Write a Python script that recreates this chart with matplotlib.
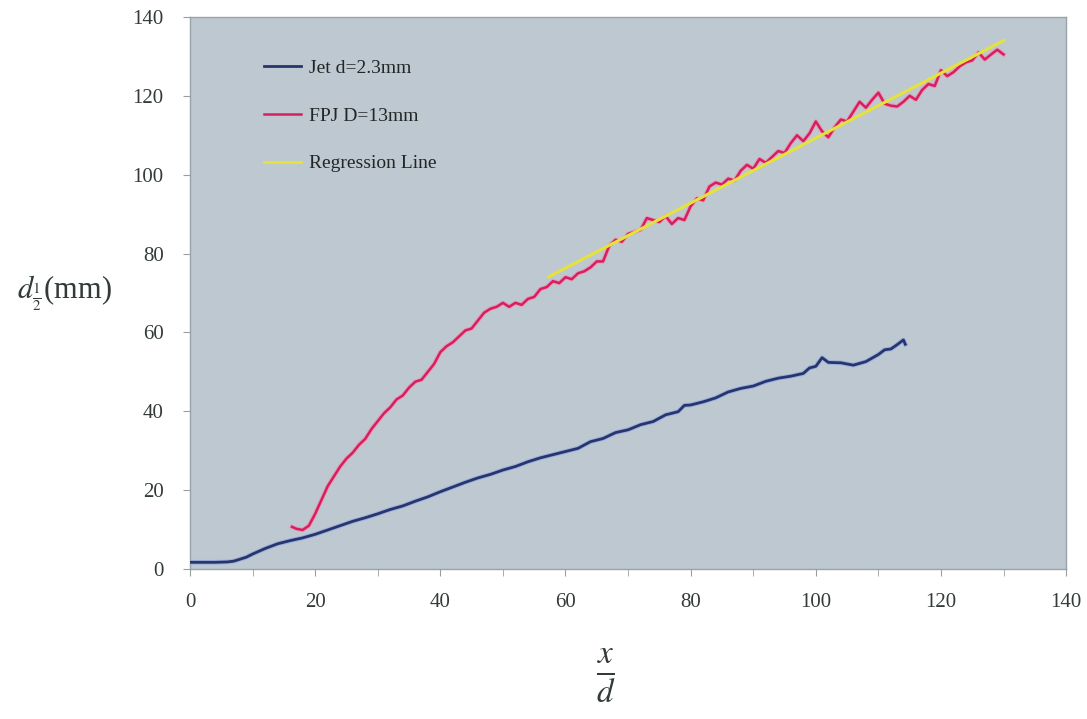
import numpy as np
import matplotlib.pyplot as plt

# струя d=2.3mm
jet_x = [0, 2, 4, 6, 7, 8, 9, 10, 11, 12, 14, 16, 18, 20, 22, 24, 26, 28, 30,
         32, 34, 36, 38, 40, 42, 44, 46, 48, 50, 52, 54, 56, 58, 60, 62, 64,
         66, 68, 70, 72, 74, 76, 78, 79, 80, 82, 84, 86, 88, 90, 92, 94, 96,
         98, 99, 100, 101, 102, 104, 106, 108, 110, 111, 112, 113, 114, 114.3]
jet_y = [1.7, 1.7, 1.7, 1.8, 2.0, 2.5, 3.0, 3.8, 4.5, 5.2, 6.4, 7.2, 7.9, 8.8,
         9.9, 11.0, 12.1, 13.0, 14.0, 15.1, 16.0, 17.2, 18.3, 19.6, 20.8, 22.0,
         23.1, 24.0, 25.1, 26.0, 27.2, 28.2, 29.0, 29.8, 30.6, 32.3, 33.1, 34.6,
         35.3, 36.6, 37.4, 39.1, 39.9, 41.5, 41.6, 42.4, 43.4, 44.9, 45.8, 46.4,
         47.6, 48.4, 48.9, 49.6, 51.0, 51.4, 53.6, 52.4, 52.3, 51.7, 52.6, 54.4,
         55.6, 55.8, 56.9, 58.1, 57.0]

# FPJ D=13mm
fpj_x = [16.3] + list(range(17, 131))
fpj_y = [10.7, 10.2, 9.9, 11.0, 14.0, 17.5, 21.0, 23.5, 26.0, 28.0, 29.5, 31.5,
         33.0, 35.5, 37.5, 39.5, 41.0, 43.0, 44.0, 46.0, 47.5, 48.0, 50.0, 52.0,
         55.0, 56.5, 57.5, 59.0, 60.5, 61.0, 63.0, 65.0, 66.0, 66.5, 67.5, 66.5,
         67.5, 67.0, 68.5, 69.0, 71.0, 71.5, 73.0, 72.5, 74.0, 73.5, 75.0, 75.5,
         76.5, 78.0, 78.0, 82.0, 83.5, 83.0, 85.0, 85.5, 86.0, 89.0, 88.5, 88.0,
         89.5, 87.5, 89.0, 88.5, 92.0, 94.0, 93.5, 97.0, 98.0, 97.5, 99.0, 98.5,
         101.0, 102.5, 101.5, 104.0, 103.0, 104.5, 106.0, 105.5, 108.0, 110.0,
         108.5, 110.5, 113.5, 111.0, 109.5, 112.0, 114.0, 113.5, 116.0, 118.5,
         117.0, 119.0, 120.8, 118.0, 117.5, 117.3, 118.5, 120.0, 119.0, 121.5,
         123.0, 122.5, 126.5, 125.0, 126.0, 127.5, 128.5, 129.0, 131.0, 129.2,
         130.5, 131.7, 130.5]

# линия регрессии
reg_x = [57.3, 130.0]
reg_y = [74.1, 134.0]

labels = ['Jet d=2.3mm', 'FPJ D=13mm', 'Regression Line']

plt.rcParams['font.family'] = ['Liberation Serif', 'DejaVu Serif']
plt.rcParams['mathtext.fontset'] = 'stix'
txt = '#333b3a'

fig = plt.figure(figsize=(10.87, 7.19), dpi=100)
ax = fig.add_axes([0.1748, 0.2086, 0.806, 0.7678])
ax.set_facecolor('#bdc8d1')

ax.plot(jet_x, jet_y, color='#8fa6e0', linewidth=3.4, alpha=0.7, zorder=2)
ax.plot(jet_x, jet_y, color='#28346e', linewidth=2.0, label=labels[0], zorder=3)
ax.plot(fpj_x, fpj_y, color='#f08cb0', linewidth=3.2, alpha=0.7, zorder=2)
ax.plot(fpj_x, fpj_y, color='#d81e5e', linewidth=1.8, label=labels[1], zorder=3)
ax.plot(reg_x, reg_y, color='#e6e23c', linewidth=2.2, label=labels[2], zorder=4)

ax.set_xlim(0, 140)
ax.set_ylim(0, 140)
ax.set_xticks(np.arange(0, 141, 20))
ax.set_xticks(np.arange(0, 141, 10), minor=True)
ax.set_yticks(np.arange(0, 141, 20))
ax.tick_params(axis='both', which='both', direction='out', length=5,
               color='#9aa0a0', labelsize=15, labelcolor=txt)
ax.tick_params(axis='x', pad=12)
ax.tick_params(axis='y', pad=14)
for s in ax.spines.values():
    s.set_color('#9aa4a8')
    s.set_linewidth(1.0)

ax.text(-0.089, 0.5, r'$d_{\frac{1}{2}}$(mm)', transform=ax.transAxes,
        fontsize=22, color=txt, ha='right', va='center')
ax.text(0.474, -0.195, r'$\frac{x}{d}$', transform=ax.transAxes,
        fontsize=34, color=txt, ha='center', va='center')

leg = ax.legend(loc='upper left', bbox_to_anchor=(0.065, 0.955), frameon=False,
                fontsize=14, handlelength=1.9, handletextpad=0.4,
                labelspacing=1.55)
for t in leg.get_texts():
    t.set_color('#222626')

plt.savefig('out.png', dpi=100)
